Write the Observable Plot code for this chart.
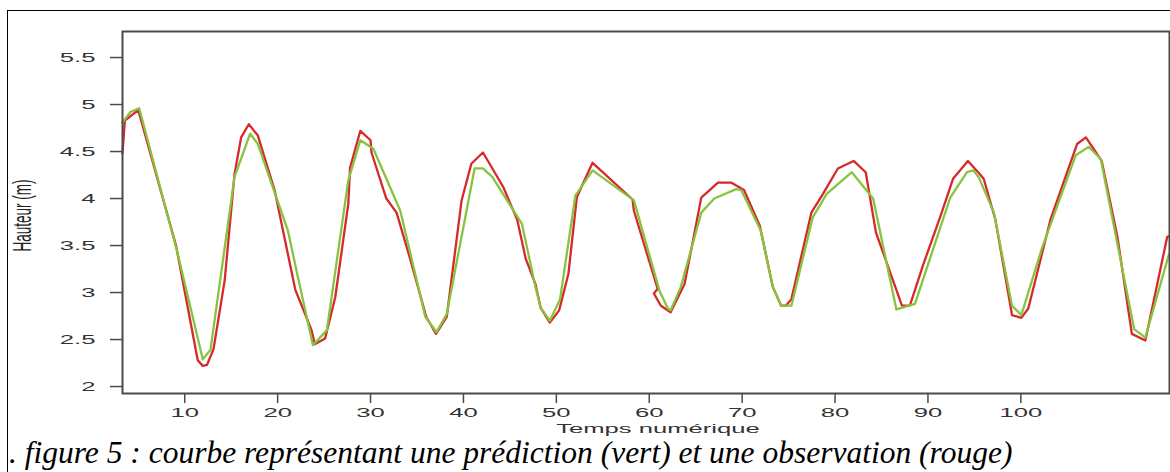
<!DOCTYPE html>
<html>
<head>
<meta charset="utf-8">
<script src="https://cdn.jsdelivr.net/npm/d3@7"></script>
<script src="https://cdn.jsdelivr.net/npm/@observablehq/plot@0.6"></script>
<style>
  html, body { margin:0; padding:0; background:#fff; }
  body { width:1170px; height:472px; overflow:hidden; position:relative; }
  #frame { position:absolute; left:7px; top:10px; width:1200px; height:500px; border:1px solid #000; box-sizing:border-box; }
  #chart { position:absolute; left:0; top:0; }
  #caption { position:absolute; left:9px; top:441.5px; font-family:"Liberation Serif","Times New Roman",serif; font-style:italic; font-size:31.5px; line-height:22px; white-space:nowrap; color:#000; }
</style>
</head>
<body>
<div id="frame"></div>
<div id="chart"></div>
<div id="caption">. figure 5 : courbe représentant une prédiction (vert) et une observation (rouge)</div>
<script>
// Observation (rouge): time and height vertices
const obsTime = [3.3,3.55,5.0,9.06,11.4,11.94,12.4,13.1,14.3,15.36,16.07,16.9,17.87,19.67,21.9,23.65,24.0,25.1,26.2,27.6,27.8,28.9,30.0,30.1,31.7,32.8,34.2,36.0,37.05,38.2,39.8,40.85,42.1,44.3,45.8,46.7,47.75,48.3,49.3,50.3,51.3,52.2,53.0,53.9,58.2,58.35,60.9,60.5,61.25,62.3,63.8,65.6,67.4,68.8,70.2,71.9,73.3,74.2,74.7,75.3,77.45,78.7,80.3,82.0,83.3,84.4,87.2,88.05,89.5,91.3,92.7,94.3,95.5,96.0,97.25,99.05,100.05,100.8,103.2,106.05,107.0,108.7,110.4,111.95,113.4,115.75,115.95];
const obsHeight = [4.48,4.83,4.94,3.50,2.28,2.22,2.23,2.40,3.13,4.26,4.65,4.79,4.67,4.09,3.03,2.60,2.45,2.51,2.95,3.94,4.33,4.72,4.62,4.49,4.00,3.85,3.38,2.74,2.56,2.74,3.98,4.37,4.49,4.12,3.77,3.36,3.09,2.84,2.68,2.81,3.20,4.01,4.19,4.38,3.99,3.87,3.04,2.99,2.86,2.79,3.09,4.01,4.17,4.17,4.09,3.71,3.06,2.86,2.86,2.93,3.85,4.05,4.32,4.40,4.28,3.64,2.86,2.86,3.30,3.80,4.21,4.40,4.27,4.21,3.78,2.76,2.73,2.83,3.78,4.58,4.65,4.40,3.59,2.56,2.49,3.59,3.60];

// Prédiction (vert)
const predTime = [3.3,4.15,5.1,9.25,11.94,12.77,15.36,17.04,17.87,21.1,22.1,23.8,25.3,27.6,28.9,30.3,33.2,35.9,37.1,38.2,41.2,42.1,43.1,46.3,47.75,48.3,49.3,50.4,52.05,53.9,58.35,61.1,62.0,62.3,63.4,65.6,67.0,69.35,69.9,72.0,73.3,74.2,75.3,77.6,79.1,81.8,84.1,86.6,88.6,92.4,94.2,94.9,95.5,97.1,99.05,100.05,102.3,105.9,107.3,108.6,112.2,113.4,115.95];
const predHeight = [4.81,4.92,4.96,3.41,2.29,2.39,4.23,4.69,4.58,3.66,3.20,2.44,2.60,4.19,4.62,4.53,3.87,2.74,2.58,2.77,4.32,4.32,4.23,3.73,3.06,2.84,2.70,2.93,4.03,4.30,3.98,3.02,2.83,2.81,3.06,3.85,4.00,4.10,4.09,3.66,3.06,2.86,2.86,3.80,4.05,4.28,4.00,2.82,2.88,4.01,4.28,4.30,4.22,3.85,2.86,2.76,3.48,4.46,4.55,4.42,2.61,2.52,3.41];

const xTicks = [10,20,30,40,50,60,70,80,90,100];
const yTicks = [2,2.5,3,3.5,4,4.5,5,5.5];
const yTickLabels = ["2","2.5","3","3.5","4","4.5","5","5.5"];
const xTitle = "Temps numérique";
const yTitle = "Hauteur (m)";

const obs = obsTime.map((t,i) => ({t, v: obsHeight[i]}));
const pred = predTime.map((t,i) => ({t, v: predHeight[i]}));

const svg = Plot.plot({
  width: 1170,
  height: 438,
  marginLeft: 122,
  marginRight: 1,
  marginTop: 31,
  marginBottom: 45,
  x: {domain: [3.3, 116]},
  y: {domain: [1.926, 5.777]},
  style: {background: "transparent", fontFamily: "'Liberation Sans', Arial, sans-serif", fontSize: "13.5px", color: "#333"},
  marks: [
    Plot.line(obs, {x: "t", y: "v", stroke: "#d6292b", strokeWidth: 2.3, strokeLinejoin: "round"}),
    Plot.line(pred, {x: "t", y: "v", stroke: "#86c43f", strokeWidth: 2.3, strokeLinejoin: "round"}),
    Plot.frame({stroke: "#4a4a4a", strokeWidth: 2}),
    Plot.axisY({ticks: yTicks, tickSize: 12, tickPadding: 15, tickFormat: (d) => yTickLabels[yTicks.indexOf(d)], label: null, stroke: "#4a4a4a", strokeWidth: 1.5, fill: "#333"}),
    Plot.axisX({ticks: xTicks, tickSize: 10, tickPadding: 4, tickFormat: (d) => String(d), label: null, stroke: "#4a4a4a", strokeWidth: 1.5, fill: "#333"}),
    Plot.text([yTitle], {frameAnchor: "left", textAnchor: "middle", lineAnchor: "middle", dx: -100, dy: 3, rotate: -90, fontSize: 13.5, fill: "#222"}),
    Plot.text([xTitle], {frameAnchor: "bottom", textAnchor: "middle", lineAnchor: "middle", dx: 12, dy: 35, fontSize: 12.5, fill: "#333"})
  ]
});

// the reference image is stretched horizontally: stretch the texts the same way
svg.querySelectorAll("text").forEach((el) => {
  const S = el.textContent === xTitle ? 2.05 : 1.9;
  const t = el.getAttribute("transform");
  if (t) {
    if (t.includes("rotate")) el.setAttribute("transform", t.replace("rotate", `scale(${S},1) rotate`));
    else el.setAttribute("transform", t + ` scale(${S},1)`);
  } else {
    const x = +el.getAttribute("x") || 0, y = +el.getAttribute("y") || 0;
    el.setAttribute("transform", `translate(${x},${y}) scale(${S},1) translate(${-x},${-y})`);
  }
});

document.getElementById("chart").appendChild(svg);
</script>
</body>
</html>
